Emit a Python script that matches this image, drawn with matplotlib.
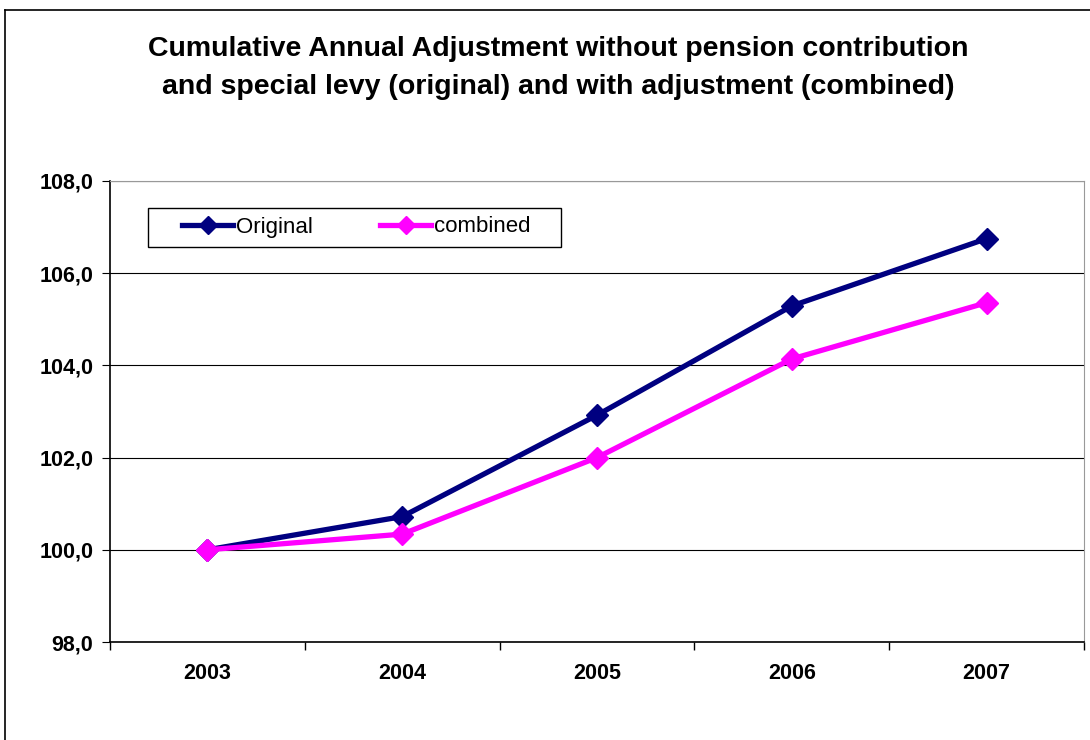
import numpy as np
import matplotlib.pyplot as plt
from matplotlib.lines import Line2D
from matplotlib.patches import Rectangle

plt.rcParams['font.family'] = ['Liberation Sans', 'DejaVu Sans']

years = ['2003', '2004', '2005', '2006', '2007']
original = [100.0, 100.72, 102.92, 105.29, 106.75]
combined = [100.0, 100.34, 102.0, 104.14, 105.36]
yticks = [98.0, 100.0, 102.0, 104.0, 106.0, 108.0]

fig = plt.figure(figsize=(10.9, 7.4), dpi=100)
ax = fig.add_axes([110/1090, 1 - 642/740, 974/1090, 461/740])

x = np.arange(len(years))
ax.plot(x, original, color='#000080', lw=3.8, marker='D', ms=11, label='Original')
ax.plot(x, combined, color='#FF00FF', lw=3.8, marker='D', ms=11, label='combined')

ax.set_xlim(-0.5, len(years) - 0.5)
ax.set_ylim(98, 108)
ax.set_yticks(yticks)
ax.set_yticklabels([('%.1f' % v).replace('.', ',') for v in yticks],
                   fontsize=15.5, fontweight='bold')
ax.set_xticks(x)
ax.set_xticklabels(years, fontsize=15.5, fontweight='bold')
ax.set_xticks(np.arange(-0.5, len(years), 1), minor=True)
ax.tick_params(axis='x', which='major', length=0, pad=15)
ax.tick_params(axis='x', which='minor', length=6, direction='out', width=1)
ax.tick_params(axis='y', length=6, direction='out', pad=6)
ax.yaxis.grid(True, color='black', lw=0.8)
ax.set_axisbelow(True)
for s in ['top', 'right']:
    ax.spines[s].set_color('#999999')
for s in ['left', 'bottom']:
    ax.spines[s].set_color('black')
    ax.spines[s].set_linewidth(1.2)

# legend box drawn by hand so the padding matches
ax.add_patch(Rectangle((38/974, 1 - 66/461), 413/974, 39/461, transform=ax.transAxes,
                       fill=False, edgecolor='black', lw=1.0, zorder=4))
leg = ax.legend(loc='center left', bbox_to_anchor=(72/974, 1 - 46/461), ncol=2,
                fontsize=16, frameon=False,
                handlelength=2.3, handletextpad=0.15, columnspacing=3.0,
                borderpad=0, borderaxespad=0, markerscale=0.85)

fig.text(558/1090, 1 - 68/740,
         'Cumulative Annual Adjustment without pension contribution\n'
         'and special levy (original) and with adjustment (combined)',
         ha='center', va='center', fontsize=20.5, fontweight='bold', linespacing=1.65)

# outer chart border
fig.add_artist(Line2D([5/1090, 5/1090], [0, 1 - 10/740], color='black', lw=1.2))
fig.add_artist(Line2D([5/1090, 1], [1 - 10/740, 1 - 10/740], color='black', lw=1.2))

fig.savefig('out.png', dpi=100)
